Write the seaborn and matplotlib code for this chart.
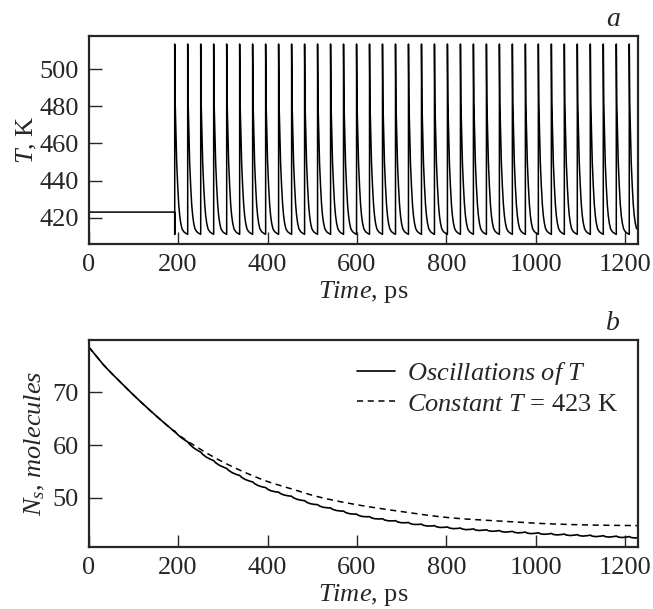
import numpy as np
import pandas as pd
import seaborn as sns
import matplotlib
matplotlib.use("Agg")
import matplotlib.pyplot as plt

sns.set_style("ticks")
plt.rcParams['font.family'] = ['Liberation Serif', 'DejaVu Serif']
plt.rcParams['mathtext.fontset'] = 'custom'
plt.rcParams['mathtext.rm'] = 'Liberation Serif'
plt.rcParams['mathtext.it'] = 'Liberation Serif:italic'

# panel a: temperature
T_const = 423
peak_times = [192.4, 221.4, 250.5, 279.5, 308.6, 337.6, 366.6, 395.7, 424.7, 453.8,
              482.8, 511.8, 540.9, 569.9, 599.0, 628.0, 657.0, 686.1, 715.1, 744.2,
              773.2, 802.2, 831.3, 860.3, 889.4, 918.4, 947.4, 976.5, 1005.5, 1034.6,
              1063.6, 1092.6, 1121.7, 1150.7, 1179.8, 1208.8]
# shape of one heating pulse: time after the jump (ps) and T (K)
pulse_dt = [0.0, 0.0, 1.0, 2.9, 4.5, 6.7, 9.0, 11.2, 13.5, 16.3, 20.0, 24.0, 28.9]
pulse_T = [411, 513.5, 482, 464, 449, 437, 427, 421, 417, 414, 412.5, 411.7, 411]

# panel b: number of molecules
t_ns = [0, 30, 70, 100, 150, 200, 250, 300, 350, 400, 450, 500, 550, 600,
        700, 800, 900, 1000, 1100, 1228]
ns_osc = [78.6, 75.5, 72.0, 69.5, 65.6, 62.0, 58.6, 55.9, 53.6, 51.7, 50.3, 48.9,
          47.8, 46.8, 45.4, 44.4, 43.8, 43.3, 42.9, 42.5]
ns_const = [78.6, 75.5, 72.0, 69.5, 65.6, 62.0, 59.2, 56.8, 54.8, 53.1, 51.8, 50.5,
            49.5, 48.7, 47.4, 46.3, 45.7, 45.2, 44.9, 44.75]
# small step within each pulse period seen on the solid curve
ripple_dt = [0.0, 4.0, 12.0, 22.0, 29.0]
ripple_dn = [0.12, -0.05, -0.12, -0.02, 0.12]


def smooth(xs, ys, grid):
    # cubic hermite through the read points
    xs = np.asarray(xs, float)
    ys = np.asarray(ys, float)
    m = np.gradient(ys, xs)
    i = np.clip(np.searchsorted(xs, grid) - 1, 0, len(xs) - 2)
    h = xs[i + 1] - xs[i]
    s = (grid - xs[i]) / h
    return ((2 * s**3 - 3 * s**2 + 1) * ys[i] + (s**3 - 2 * s**2 + s) * h * m[i]
            + (-2 * s**3 + 3 * s**2) * ys[i + 1] + (s**3 - s**2) * h * m[i + 1])


t_T = [0.0, peak_times[0]]
T_vals = [T_const, T_const]
for p in peak_times:
    t_T += [p + d for d in pulse_dt]
    T_vals += pulse_T
dfT = pd.DataFrame({'t': t_T, 'T': T_vals})
dfT = dfT[dfT['t'] <= 1228]

grid = np.linspace(0, 1228, 1500)
osc = smooth(t_ns, ns_osc, grid)
after = grid >= peak_times[0]
phase = (grid - peak_times[0]) % 29.04
osc[after] += np.interp(phase[after], ripple_dt, ripple_dn)
dfN = pd.DataFrame({'t': grid, 'osc': osc,
                    'const': smooth(t_ns, ns_const, grid)})

fig = plt.figure(figsize=(6.53, 6.09), dpi=100)
ax1 = fig.add_axes([0.1358, 0.5993, 0.841, 0.3415])
ax2 = fig.add_axes([0.1358, 0.1018, 0.841, 0.3399])

fs = 19
sns.lineplot(data=dfT, x='t', y='T', ax=ax1, color='black', lw=1.1,
             sort=False, estimator=None)
ax1.set_ylim(405.8, 517.8)
ax1.set_yticks([420, 440, 460, 480, 500])
ax1.set_ylabel('$T$, K', fontsize=fs, labelpad=0)

sns.lineplot(data=dfN, x='t', y='const', ax=ax2, color='black', lw=1.1,
             linestyle=(0, (4, 3)), estimator=None)
sns.lineplot(data=dfN, x='t', y='osc', ax=ax2, color='black', lw=1.2,
             estimator=None)
ax2.set_ylim(40.7, 79.9)
ax2.set_yticks([50, 60, 70])
ax2.set_ylabel('$N_s$, $\\mathit{molecules}$', fontsize=fs, labelpad=4)

lines = ax2.get_lines()
ax2.legend([lines[1], lines[0]],
           ['$\\mathit{Oscillations\\ of\\ T}$', '$\\mathit{Constant\\ T}$ = 423 K'],
           loc='upper right', frameon=False, fontsize=fs, handlelength=1.45,
           handletextpad=0.45, borderaxespad=0.35, labelspacing=0.2)

for ax, letter in [(ax1, 'a'), (ax2, 'b')]:
    ax.set_xlim(0, 1228)
    ax.set_xticks([0, 200, 400, 600, 800, 1000, 1200])
    ax.set_xlabel('$\\mathit{Time}$, ps', fontsize=fs, labelpad=2)
    ax.tick_params(direction='in', length=9, width=1, labelsize=fs,
                   top=False, right=False, pad=7)
    for s in ax.spines.values():
        s.set_linewidth(1.6)
        s.set_visible(True)
    ax.text(0.955, 1.02, letter, transform=ax.transAxes, fontsize=fs + 1,
            style='italic', ha='center', va='bottom')

fig.savefig('out.png', dpi=100)
